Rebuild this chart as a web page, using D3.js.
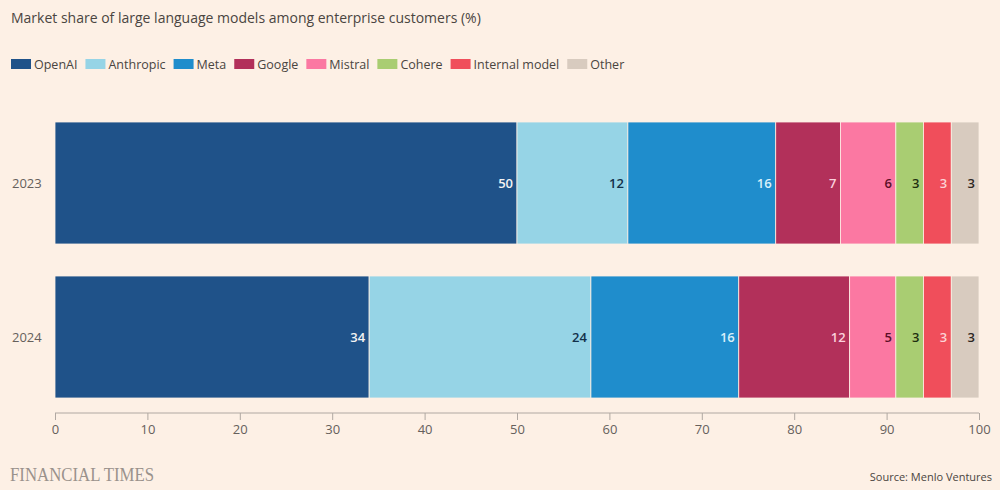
<!DOCTYPE html>
<html><head><meta charset="utf-8">
<script src="https://cdn.jsdelivr.net/npm/d3@7"></script>
<style>
body{margin:0;background:#fdf0e5;}
svg{display:block;font-family:"Open Sans",Lato,sans-serif;}
</style></head><body>
<svg id="c" width="1000" height="490"></svg>
<script>
const years = ["2023", "2024"];
const companies = ["OpenAI","Anthropic","Meta","Google","Mistral","Cohere","Internal model","Other"];
const values2023 = [50,12,16,7,6,3,3,3];
const values2024 = [34,24,16,12,5,3,3,3];
const colors = ["#1f5289","#96d4e6","#1f8dcc","#b2305a","#fb78a2","#a9cd72","#f04e5b","#d8cbbf"];
const labelColors = ["#f3f3f3","#12304a","#d8f0fa","#fbd0dd","#5a0f28","#1e2f10","#fcd2d5","#2c2622"];
const xTicks = [0,10,20,30,40,50,60,70,80,90,100];

const svg = d3.select("#c");
svg.append("rect").attr("width",1000).attr("height",490).attr("fill","#fdf0e5");

svg.append("text").attr("x",11).attr("y",23).attr("font-size",14).attr("fill","#4a4541")
  .text("Market share of large language models among enterprise customers (%)");

// legend
const leg = svg.append("g").attr("transform","translate(11,64)");
let lx = 0;
companies.forEach((c,i)=>{
  const g = leg.append("g").attr("transform",`translate(${lx},0)`);
  g.append("rect").attr("x",0).attr("y",-5).attr("width",20).attr("height",10).attr("fill",colors[i]);
  const t = g.append("text").attr("x",23).attr("y",4.5).attr("font-size",12.5).attr("fill","#4a4541").text(c);
  lx += 23 + t.node().getComputedTextLength() + 8;
});

const x = d3.scaleLinear().domain([0,100]).range([55,979]);
const y = d3.scaleBand().domain(years).range([106,414]).paddingInner(0.2078).paddingOuter(0.1039);

const data = [values2023, values2024];
years.forEach((yr,yi)=>{
  const vals = data[yi];
  let cum = 0;
  const g = svg.append("g");
  vals.forEach((v,i)=>{
    const x0 = cum, x1 = cum+v; cum = x1;
    g.append("rect").attr("x",x(x0)).attr("y",y(yr)).attr("width",x(x1)-x(x0)).attr("height",y.bandwidth())
      .attr("fill",colors[i]).attr("stroke","#fdf0e5").attr("stroke-width",0.8);
    g.append("text").attr("x",x(x1)-4).attr("y",y(yr)+y.bandwidth()/2+5).attr("text-anchor","end")
      .attr("font-size",13).attr("font-weight",600).attr("fill",labelColors[i]).text(v);
  });
  svg.append("text").attr("x",12).attr("y",y(yr)+y.bandwidth()/2+5).attr("font-size",13).attr("fill","#66605c").text(yr);
});

// axis
const ax = svg.append("g").attr("transform","translate(0,413)")
  .call(d3.axisBottom(x).tickValues(xTicks).tickSize(7).tickPadding(5));
ax.select(".domain").attr("stroke","#b0a8a2").attr("d",`M${x(0)},0H${x(100)}`);
ax.selectAll(".tick line").attr("stroke","#b0a8a2");
ax.selectAll(".tick text").attr("font-size",13).attr("fill","#66605c").attr("font-family","'Open Sans',sans-serif");

svg.append("text").attr("x",10).attr("y",481).attr("font-family","'Liberation Serif','DejaVu Serif',serif")
  .attr("font-size",18).attr("fill","#9a928c").attr("textLength",144).attr("lengthAdjust","spacingAndGlyphs").text("FINANCIAL TIMES");
svg.append("text").attr("x",992).attr("y",481).attr("text-anchor","end").attr("font-size",11).attr("fill","#4a4541")
  .text("Source: Menlo Ventures");
</script>
</body></html>
